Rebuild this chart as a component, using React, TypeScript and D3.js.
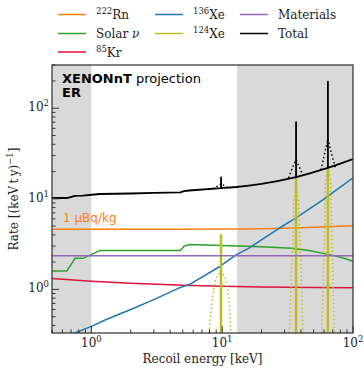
import React, { useEffect, useRef } from "react";
import * as d3 from "d3";

// background components, rate in (keV t y)^-1 vs recoil energy in keV
const rnEnergy = [0.5, 1, 2, 5, 10, 15, 20, 30, 50, 70, 100];
const rnRate = [4.62, 4.62, 4.62, 4.62, 4.63, 4.65, 4.68, 4.74, 4.85, 4.95, 5.05];

const solarEnergy = [0.5, 0.65, 0.75, 0.86, 1.16, 2, 4.8, 5.1, 5.6, 10, 20, 34, 46, 66, 82, 100];
const solarRate = [1.6, 1.6, 2.2, 2.2, 2.68, 2.68, 2.68, 3.0, 3.13, 3.06, 2.96, 2.84, 2.68, 2.42, 2.25, 2.04];

const krEnergy = [0.5, 1, 2, 5, 10, 20, 50, 100];
const krRate = [1.32, 1.23, 1.17, 1.11, 1.08, 1.06, 1.05, 1.04];

const xe136Energy = [0.5, 0.75, 1, 1.3, 2, 3, 4.7, 5.6, 9.6, 12.8, 16, 27, 37.7, 58, 66, 100];
const xe136Rate = [0.26, 0.33, 0.39, 0.465, 0.6, 0.77, 1.04, 1.13, 1.79, 2.4, 2.85, 4.7, 6.3, 9.6, 11, 17];

const materialsEnergy = [0.5, 100];
const materialsRate = [2.35, 2.35];

// 124Xe lines (solid) and smeared peaks (dotted)
const xe124PeakEnergy = [9.8, 36.7, 64.3];
const xe124PeakRate = [4.06, 17, 22];

const xe124SmearA_E = [7.6, 8.0, 8.4, 8.9, 9.8, 10.7, 11.3, 11.6, 12.0];
const xe124SmearA_R = [0.18, 0.38, 0.77, 1.3, 1.6, 1.3, 0.8, 0.38, 0.18];
const xe124SmearB_E = [32.5, 33.5, 34.5, 35.3, 36.7, 38.2, 39.5, 40.5, 41.5];
const xe124SmearB_R = [0.3, 1, 3, 10, 13, 10, 3, 1, 0.3];
const xe124SmearC_E = [57.5, 59, 60.5, 61.5, 64.3, 67.5, 69, 70.5, 72];
const xe124SmearC_R = [0.3, 1, 4, 15, 23, 15, 4, 1, 0.3];

// total, with the line spikes
const totalEnergy = [0.5, 0.65, 0.75, 0.86, 1.16, 2, 3, 4.8, 5.1, 5.6, 9.8, 9.8, 9.8, 12.8, 16, 20, 27, 36.7, 36.7, 36.7, 46, 58, 64.3, 64.3, 64.3, 80, 100];
const totalRate = [10.2, 10.2, 10.8, 10.85, 11.3, 11.45, 11.6, 11.8, 12.15, 12.35, 13.1, 17.2, 13.1, 13.5, 14.0, 14.6, 15.8, 17.3, 70, 17.3, 19.0, 21.0, 22.0, 197, 22.0, 24.5, 27.4];

const totalSmearA_E = [7.9, 8.6, 9.2, 9.8, 10.4, 11.0, 11.7];
const totalSmearA_R = [12.7, 13.1, 13.8, 14.7, 13.9, 13.3, 13.2];
const totalSmearB_E = [32.2, 34.3, 36.7, 39.2, 41.9];
const totalSmearB_R = [17.0, 21.8, 27, 21.8, 17.6];
const totalSmearC_E = [57.0, 60.5, 64.3, 68.6, 73.2];
const totalSmearC_R = [20.8, 31, 46, 31, 22.3];

const shadedRanges = [
  [0.5, 1],
  [13, 100],
];

const serif = "DejaVu Serif, serif";
const sans = "DejaVu Sans, sans-serif";

const colors = {
  rn: "#ff7f0e",
  solar: "#2ca02c",
  kr: "#dc143c",
  xe136: "#1f77b4",
  xe124: "#bcbd22",
  materials: "#9467bd",
  total: "#000000",
};

export default function App() {
  const ref = useRef<SVGSVGElement>(null);

  useEffect(() => {
    const svg = d3.select(ref.current);
    svg.selectAll("*").remove();

    const margin = { top: 65, right: 11, bottom: 35, left: 52 };
    const width = 364;
    const height = 368;

    const x = d3.scaleLog().domain([0.5, 100]).range([margin.left, width - margin.right]);
    const y = d3.scaleLog().domain([0.33, 300]).range([height - margin.bottom, margin.top]);

    const [x0, x1] = x.range();
    const [y0, y1] = y.range();

    svg
      .append("defs")
      .append("clipPath")
      .attr("id", "plotClip")
      .append("rect")
      .attr("x", x0)
      .attr("y", y1)
      .attr("width", x1 - x0)
      .attr("height", y0 - y1);

    // shaded regions
    svg
      .selectAll(".shade")
      .data(shadedRanges)
      .enter()
      .append("rect")
      .attr("x", (d) => x(d[0]))
      .attr("y", y1)
      .attr("width", (d) => x(d[1]) - x(d[0]))
      .attr("height", y0 - y1)
      .attr("fill", "#d9d9d9");

    const plot = svg.append("g").attr("clip-path", "url(#plotClip)");

    const line = d3
      .line<[number, number]>()
      .x((d) => x(d[0]))
      .y((d) => y(Math.max(d[1], 0.01)));

    const drawLine = (
      es: number[],
      rs: number[],
      color: string,
      lw: number,
      dash?: string
    ) => {
      const pts = es.map((e, i) => [e, rs[i]] as [number, number]);
      plot
        .append("path")
        .attr("d", line(pts))
        .attr("fill", "none")
        .attr("stroke", color)
        .attr("stroke-width", lw)
        .attr("stroke-dasharray", dash || null)
        .attr("stroke-linejoin", "round");
    };

    drawLine(rnEnergy, rnRate, colors.rn, 1.5);
    drawLine(solarEnergy, solarRate, colors.solar, 1.5);
    drawLine(krEnergy, krRate, colors.kr, 1.5);
    drawLine(xe136Energy, xe136Rate, colors.xe136, 1.5);

    // 124Xe
    plot
      .selectAll(".xe124")
      .data(xe124PeakEnergy)
      .enter()
      .append("line")
      .attr("x1", (d) => x(d))
      .attr("x2", (d) => x(d))
      .attr("y1", y0 + 2)
      .attr("y2", (d, i) => y(xe124PeakRate[i]))
      .attr("stroke", colors.xe124)
      .attr("stroke-width", 2.5);
    const dotted = "1.5,2.5";
    drawLine(xe124SmearA_E, xe124SmearA_R, colors.xe124, 1.5, dotted);
    drawLine(xe124SmearB_E, xe124SmearB_R, colors.xe124, 1.5, dotted);
    drawLine(xe124SmearC_E, xe124SmearC_R, colors.xe124, 1.5, dotted);

    drawLine(materialsEnergy, materialsRate, colors.materials, 1.5);

    drawLine(totalEnergy, totalRate, colors.total, 1.8);
    drawLine(totalSmearA_E, totalSmearA_R, colors.total, 1.5, dotted);
    drawLine(totalSmearB_E, totalSmearB_R, colors.total, 1.5, dotted);
    drawLine(totalSmearC_E, totalSmearC_R, colors.total, 1.5, dotted);

    // frame
    svg
      .append("rect")
      .attr("x", x0)
      .attr("y", y1)
      .attr("width", x1 - x0)
      .attr("height", y0 - y1)
      .attr("fill", "none")
      .attr("stroke", "#333")
      .attr("stroke-width", 1.25);

    // ticks (pointing in)
    const isMajor = (v: number) => Math.abs(Math.log10(v) - Math.round(Math.log10(v))) < 1e-6;
    const tickColor = "#333";

    const xt = x.ticks();
    svg
      .selectAll(".xtick")
      .data(xt)
      .enter()
      .append("line")
      .attr("x1", (d) => x(d))
      .attr("x2", (d) => x(d))
      .attr("y1", y0)
      .attr("y2", (d) => y0 - (isMajor(d) ? 7 : 3.5))
      .attr("stroke", tickColor)
      .attr("stroke-width", 1);

    const yt = y.ticks();
    svg
      .selectAll(".ytick")
      .data(yt)
      .enter()
      .append("line")
      .attr("x1", x0)
      .attr("x2", (d) => x0 + (isMajor(d) ? 7 : 3.5))
      .attr("y1", (d) => y(d))
      .attr("y2", (d) => y(d))
      .attr("stroke", tickColor)
      .attr("stroke-width", 1);

    // tick labels
    const xMajors = xt.filter(isMajor);
    xMajors.forEach((d) => {
      const t = svg
        .append("text")
        .attr("x", x(d))
        .attr("y", y0 + 14)
        .attr("text-anchor", "middle")
        .attr("font-family", serif)
        .attr("font-size", 12)
        .attr("fill", "#222");
      t.append("tspan").text("10");
      t.append("tspan")
        .attr("font-size", 8.5)
        .attr("dy", -5)
        .text(String(Math.round(Math.log10(d))));
    });

    const yMajors = yt.filter(isMajor);
    yMajors.forEach((d) => {
      const t = svg
        .append("text")
        .attr("x", x0 - 3)
        .attr("y", y(d) + 3)
        .attr("text-anchor", "end")
        .attr("font-family", serif)
        .attr("font-size", 12)
        .attr("fill", "#222");
      t.append("tspan").text("10");
      t.append("tspan")
        .attr("font-size", 8.5)
        .attr("dy", -5)
        .text(String(Math.round(Math.log10(d))));
    });

    // axis labels
    svg
      .append("text")
      .attr("x", (x0 + x1) / 2)
      .attr("y", 363)
      .attr("text-anchor", "middle")
      .attr("font-family", serif)
      .attr("font-size", 12)
      .attr("fill", "#222")
      .text("Recoil energy [keV]");

    const yl = svg
      .append("text")
      .attr("transform", `translate(18,${(y0 + y1) / 2}) rotate(-90)`)
      .attr("text-anchor", "middle")
      .attr("font-family", serif)
      .attr("font-size", 12)
      .attr("fill", "#222");
    yl.append("tspan").text("Rate [(keV\u2009t\u2009y)");
    yl.append("tspan").attr("font-size", 8.5).attr("dy", -5).text("\u22121");
    yl.append("tspan").attr("dy", 5).text("]");

    // annotations
    const title = svg
      .append("text")
      .attr("x", 62)
      .attr("y", 83)
      .attr("font-family", sans)
      .attr("font-size", 13)
      .attr("fill", "#000");
    title.append("tspan").attr("font-weight", "bold").text("XENONnT");
    title.append("tspan").text(" projection");
    svg
      .append("text")
      .attr("x", 62)
      .attr("y", 97)
      .attr("font-family", sans)
      .attr("font-size", 13)
      .attr("font-weight", "bold")
      .text("ER");

    svg
      .append("text")
      .attr("x", 63)
      .attr("y", 222)
      .attr("font-family", sans)
      .attr("font-size", 12)
      .attr("fill", colors.rn)
      .text("1 \u03bcBq/kg");

    // legend
    const legend = [
      { sup: "222", label: "Rn", color: colors.rn, col: 0, row: 0 },
      { sup: "", label: "Solar ", nu: true, color: colors.solar, col: 0, row: 1 },
      { sup: "85", label: "Kr", color: colors.kr, col: 0, row: 2 },
      { sup: "136", label: "Xe", color: colors.xe136, col: 1, row: 0 },
      { sup: "124", label: "Xe", color: colors.xe124, col: 1, row: 1 },
      { sup: "", label: "Materials", color: colors.materials, col: 2, row: 0 },
      { sup: "", label: "Total", color: colors.total, col: 2, row: 1 },
    ];
    const colX = [58, 155, 240];
    const rowY = [14.5, 33.5, 52];

    legend.forEach((d) => {
      const lx = colX[d.col];
      const ly = rowY[d.row];
      svg
        .append("line")
        .attr("x1", lx)
        .attr("x2", lx + 28)
        .attr("y1", ly)
        .attr("y2", ly)
        .attr("stroke", d.color)
        .attr("stroke-width", 1.5);
      const t = svg
        .append("text")
        .attr("x", lx + 38)
        .attr("y", ly + 4.5)
        .attr("font-family", serif)
        .attr("font-size", 12)
        .attr("fill", "#222");
      if (d.sup) {
        t.append("tspan").attr("font-size", 8.5).attr("dy", -5).text(d.sup);
        t.append("tspan").attr("dy", 5).text(d.label);
      } else {
        t.append("tspan").text(d.label);
      }
      if (d.nu) {
        t.append("tspan").attr("font-style", "italic").text("\u03bd");
      }
    });
  }, []);

  return (
    <div style={{ position: "absolute", left: 0, top: 0 }}>
      <svg ref={ref} width={364} height={368} />
    </div>
  );
}
